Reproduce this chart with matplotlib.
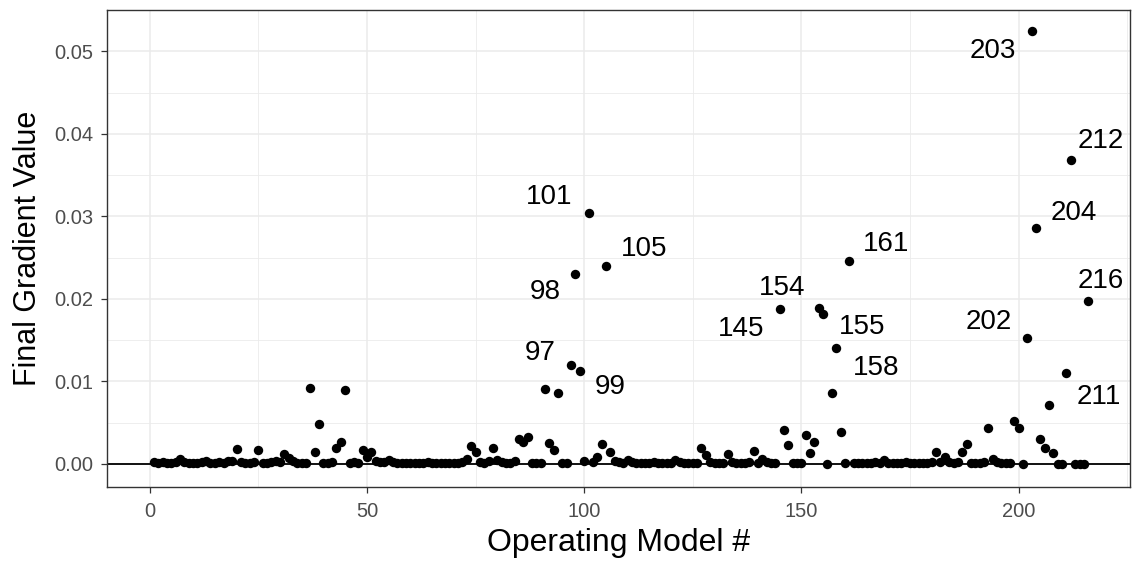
import matplotlib
matplotlib.use("Agg")
import matplotlib.pyplot as plt
from matplotlib.ticker import MultipleLocator
import numpy as np

# final gradient value per operating model (index 1..216)
grad = [
    0.0002, 0.0001, 0.0002, 0.0001, 0.0001, 0.0002, 0.0006, 0.0002, 0.0001, 0.0001,
    0.0001, 0.0002, 0.0003, 0.0001, 0.0001, 0.0002, 0.0001, 0.0003, 0.0004, 0.0018,
    0.0002, 0.0001, 0.0001, 0.0002, 0.0017, 0.0001, 0.0001, 0.0002, 0.0003, 0.0002,
    0.0012, 0.0007, 0.0003, 0.0001, 0.0001, 0.0001, 0.0092, 0.0014, 0.0049, 0.0001,
    0.0001, 0.0002, 0.0019, 0.0027, 0.0090, 0.0001, 0.0002, 0.0001, 0.0017, 0.0008,
    0.0014, 0.0003, 0.0002, 0.0002, 0.0005, 0.0002, 0.0001, 0.0001, 0.0001, 0.0001,
    0.0001, 0.0001, 0.0001, 0.0002, 0.0001, 0.0001, 0.0001, 0.0001, 0.0001, 0.0001,
    0.0001, 0.0002, 0.0006, 0.0022, 0.0015, 0.0002, 0.0001, 0.0003, 0.0019, 0.0005,
    0.0002, 0.0001, 0.0001, 0.0004, 0.0030, 0.0026, 0.0033, 0.0001, 0.0001, 0.0001,
    0.0091, 0.0025, 0.0017, 0.0086, 0.0001, 0.0001, 0.0120, 0.0230, 0.0113, 0.0003,
    0.0304, 0.0002, 0.0009, 0.0024, 0.0240, 0.0015, 0.0003, 0.0002, 0.0001, 0.0005,
    0.0002, 0.0001, 0.0001, 0.0001, 0.0001, 0.0002, 0.0001, 0.0001, 0.0001, 0.0001,
    0.0005, 0.0002, 0.0001, 0.0001, 0.0001, 0.0001, 0.0019, 0.0011, 0.0002, 0.0001,
    0.0001, 0.0001, 0.0012, 0.0002, 0.0001, 0.0001, 0.0001, 0.0002, 0.0016, 0.0001,
    0.0006, 0.0002, 0.0001, 0.0001, 0.0188, 0.0041, 0.0023, 0.0001, 0.0001, 0.0001,
    0.0035, 0.0013, 0.0026, 0.0189, 0.0182, 0.0000, 0.0086, 0.0141, 0.0039, 0.0001,
    0.0246, 0.0001, 0.0001, 0.0001, 0.0001, 0.0001, 0.0002, 0.0001, 0.0005, 0.0001,
    0.0001, 0.0001, 0.0001, 0.0002, 0.0001, 0.0001, 0.0001, 0.0001, 0.0001, 0.0002,
    0.0015, 0.0002, 0.0009, 0.0002, 0.0001, 0.0002, 0.0014, 0.0024, 0.0001, 0.0001,
    0.0001, 0.0002, 0.0044, 0.0006, 0.0002, 0.0001, 0.0001, 0.0001, 0.0052, 0.0043,
    0.0000, 0.0153, 0.0525, 0.0286, 0.0030, 0.0019, 0.0071, 0.0013, 0.0000, 0.0000,
    0.0110, 0.0368, 0.0000, 0.0000, 0.0000, 0.0197,
]
model = np.arange(1, len(grad) + 1)

# labelled models and where their labels sit
label_ids = [97, 98, 99, 101, 105, 145, 154, 155, 158, 161, 202, 203, 204, 211, 212, 216]
label_x = [89.9, 91.0, 105.9, 91.9, 113.8, 136.1, 145.5, 164.0, 167.1, 169.5, 193.0, 194.0, 212.6, 218.5, 218.8, 218.8]
label_y = [0.0135, 0.0208, 0.0093, 0.0323, 0.0260, 0.0164, 0.0213, 0.0166, 0.0116, 0.0266, 0.0172, 0.0500, 0.0304, 0.0081, 0.0391, 0.0222]

plt.rcParams['font.family'] = ['Liberation Sans', 'DejaVu Sans']

fig = plt.figure(figsize=(11.34, 5.65), dpi=100)
ax = fig.add_axes([0.0944, 0.138, 0.902, 0.844])

ax.set_xlim(-9.8, 225.6)
ax.set_ylim(-0.0028, 0.0550)

ax.xaxis.set_major_locator(MultipleLocator(50))
ax.xaxis.set_minor_locator(MultipleLocator(25))
ax.yaxis.set_major_locator(MultipleLocator(0.01))
ax.yaxis.set_minor_locator(MultipleLocator(0.005))
ax.grid(which='major', color='#EBEBEB', linewidth=1.1)
ax.grid(which='minor', color='#EBEBEB', linewidth=0.6)
ax.tick_params(which='minor', length=0)
ax.tick_params(which='major', length=4, width=0.9, color='#333333',
               labelsize=14.5, labelcolor='#4D4D4D')
ax.tick_params(axis='x', pad=7)
ax.tick_params(axis='y', pad=6)
ax.set_axisbelow(True)
ax.set_yticks([0, 0.01, 0.02, 0.03, 0.04, 0.05])
ax.set_yticklabels(['0.00', '0.01', '0.02', '0.03', '0.04', '0.05'])
for s in ax.spines.values():
    s.set_color('#333333')
    s.set_linewidth(1.0)

ax.axhline(0, color='black', linewidth=1.3, zorder=2)
ax.scatter(model, grad, s=46, color='black', zorder=3, linewidths=0)

for i, lx, ly in zip(label_ids, label_x, label_y):
    ax.text(lx, ly, str(i), ha='center', va='center', fontsize=20, color='black')

ax.set_xlabel('Operating Model #', fontsize=23, labelpad=5)
ax.set_ylabel('Final Gradient Value', fontsize=22, labelpad=8)

fig.savefig('out.png', dpi=100)
